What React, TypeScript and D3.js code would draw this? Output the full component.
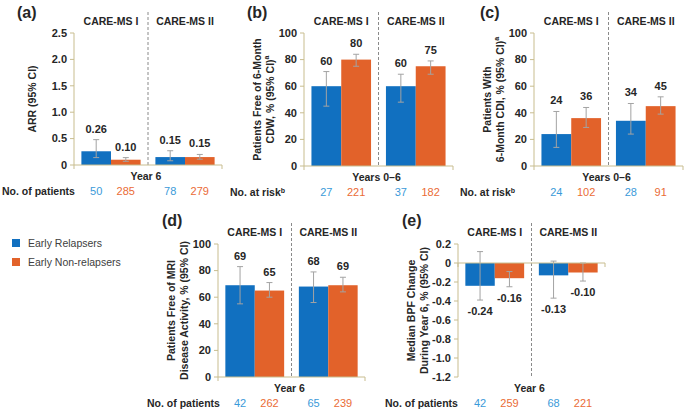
import React, { useRef, useEffect } from 'react';
import * as d3 from 'd3';

// categories
const groups = ["CARE-MS I", "CARE-MS II"];
const seriesNames = ["Early Relapsers", "Early Non-relapsers"];

// (a) ARR, Year 6
const arrRelapsers = [0.26, 0.15];
const arrNonRelapsers = [0.10, 0.15];
const arrRelapsersCI = [[0.14, 0.48], [0.08, 0.27]];
const arrNonRelapsersCI = [[0.07, 0.14], [0.11, 0.20]];
const arrPatientsRelapsers = [50, 78];
const arrPatientsNonRelapsers = [285, 279];
const arrTicks = [0, 0.5, 1.0, 1.5, 2.0, 2.5];

// (b) free of 6-month CDW, years 0-6
const cdwRelapsers = [60, 60];
const cdwNonRelapsers = [80, 75];
const cdwRelapsersCI = [[45, 71], [48, 69]];
const cdwNonRelapsersCI = [[75, 84], [69, 79]];
const cdwRiskRelapsers = [27, 37];
const cdwRiskNonRelapsers = [221, 182];

// (c) 6-month CDI, years 0-6
const cdiRelapsers = [24, 34];
const cdiNonRelapsers = [36, 45];
const cdiRelapsersCI = [[14, 41], [24, 47]];
const cdiNonRelapsersCI = [[29, 44], [39, 52]];
const cdiRiskRelapsers = [24, 28];
const cdiRiskNonRelapsers = [102, 91];

// (d) free of MRI disease activity, year 6
const mriRelapsers = [69, 68];
const mriNonRelapsers = [65, 69];
const mriRelapsersCI = [[55, 83], [56, 79]];
const mriNonRelapsersCI = [[60, 71], [64, 75]];
const mriPatientsRelapsers = [42, 65];
const mriPatientsNonRelapsers = [262, 239];

// (e) median BPF change, year 6
const bpfRelapsers = [-0.24, -0.13];
const bpfNonRelapsers = [-0.16, -0.10];
const bpfRelapsersCI = [[-0.39, 0.12], [-0.37, 0.02]];
const bpfNonRelapsersCI = [[-0.25, -0.09], [-0.19, 0]];
const bpfPatientsRelapsers = [42, 68];
const bpfPatientsNonRelapsers = [259, 221];
const bpfTicks = [-1.2, -1.0, -0.8, -0.6, -0.4, -0.2, 0, 0.2];

const pctTicks = [0, 20, 40, 60, 80, 100];

const BLUE = "#1170c0";
const ORANGE = "#e2622a";
const BLUE_TXT = "#3a9ad9";
const ORANGE_TXT = "#ea6b36";
const AXIS = "#c8bd8f";
const TXT = "#262626";
const FONT = "'Liberation Sans', Arial, sans-serif";

interface PanelDef {
  tag: string;
  left: number; right: number; top: number; bottom: number;
  tagX: number; tagY: number; tableX: number;
  domain: [number, number];
  ticks: number[];
  tickFmt: (v: number) => string;
  valFmt: (v: number) => string;
  values: number[][];
  cis: number[][][];
  counts: number[][];
  yTitle: string[];
  supTitle?: string;
  xLabel: string;
  tableLabel: string;
  tableSup?: string;
}

const oneDec = (v: number) => (v === 0 ? "0" : v.toFixed(1));
const twoDec = (v: number) => v.toFixed(2);
const intFmt = (v: number) => String(Math.round(v));

const panels: PanelDef[] = [
  {
    tag: "(a)", left: 74, right: 222, top: 33, bottom: 165, tagX: 17, tagY: 18, tableX: 2,
    domain: [0, 2.5], ticks: arrTicks, tickFmt: oneDec, valFmt: twoDec,
    values: [arrRelapsers, arrNonRelapsers], cis: [arrRelapsersCI, arrNonRelapsersCI],
    counts: [arrPatientsRelapsers, arrPatientsNonRelapsers],
    yTitle: ["ARR (95% CI)"], xLabel: "Year 6", tableLabel: "No. of patients"
  },
  {
    tag: "(b)", left: 304, right: 453, top: 33, bottom: 166, tagX: 247, tagY: 18, tableX: 230,
    domain: [0, 100], ticks: pctTicks, tickFmt: intFmt, valFmt: intFmt,
    values: [cdwRelapsers, cdwNonRelapsers], cis: [cdwRelapsersCI, cdwNonRelapsersCI],
    counts: [cdwRiskRelapsers, cdwRiskNonRelapsers],
    yTitle: ["Patients Free of 6-Month", "CDW, % (95% CI)"], supTitle: "a",
    xLabel: "Years 0–6", tableLabel: "No. at risk", tableSup: "b"
  },
  {
    tag: "(c)", left: 534, right: 683, top: 33, bottom: 166, tagX: 480, tagY: 18, tableX: 460,
    domain: [0, 100], ticks: pctTicks, tickFmt: intFmt, valFmt: intFmt,
    values: [cdiRelapsers, cdiNonRelapsers], cis: [cdiRelapsersCI, cdiNonRelapsersCI],
    counts: [cdiRiskRelapsers, cdiRiskNonRelapsers],
    yTitle: ["Patients With", "6-Month CDI, % (95% CI)"], supTitle: "a",
    xLabel: "Years 0–6", tableLabel: "No. at risk", tableSup: "b"
  },
  {
    tag: "(d)", left: 218, right: 365, top: 244, bottom: 377, tagX: 162, tagY: 226, tableX: 147,
    domain: [0, 100], ticks: pctTicks, tickFmt: intFmt, valFmt: intFmt,
    values: [mriRelapsers, mriNonRelapsers], cis: [mriRelapsersCI, mriNonRelapsersCI],
    counts: [mriPatientsRelapsers, mriPatientsNonRelapsers],
    yTitle: ["Patients Free of MRI", "Disease Activity, % (95% CI)"],
    xLabel: "Year 6", tableLabel: "No. of patients"
  },
  {
    tag: "(e)", left: 458, right: 605, top: 244, bottom: 377, tagX: 402, tagY: 226, tableX: 385,
    domain: [-1.2, 0.2], ticks: bpfTicks, tickFmt: oneDec, valFmt: twoDec,
    values: [bpfRelapsers, bpfNonRelapsers], cis: [bpfRelapsersCI, bpfNonRelapsersCI],
    counts: [bpfPatientsRelapsers, bpfPatientsNonRelapsers],
    yTitle: ["Median BPF Change", "During Year 6, % (95% CI)"],
    xLabel: "Year 6", tableLabel: "No. of patients"
  }
];

function drawPanel(svg: d3.Selection<SVGSVGElement, unknown, null, undefined>, p: PanelDef) {
  const g = svg.append("g").style("font-family", FONT);

  const y = d3.scaleLinear().domain(p.domain).range([p.bottom, p.top]);
  const x0 = d3.scaleBand<string>().domain(groups).range([p.left, p.right])
    .paddingInner(0.2).paddingOuter(0.1);
  const x1 = d3.scaleBand<number>().domain([0, 1]).range([0, x0.bandwidth()]);
  const y0 = y(0);
  const divX = ((x0(groups[0]) || 0) + x0.bandwidth() + (x0(groups[1]) || 0)) / 2;

  // panel tag
  g.append("text").attr("x", p.tagX).attr("y", p.tagY)
    .attr("font-size", 16).attr("font-weight", "bold").attr("fill", TXT).text(p.tag);

  // divider
  g.append("line").attr("x1", divX).attr("x2", divX)
    .attr("y1", p.top - 21).attr("y2", p.bottom)
    .attr("stroke", "#8a8a8a").attr("stroke-width", 1).attr("stroke-dasharray", "3,2");

  // group headers
  g.selectAll(".hdr").data(groups).enter().append("text")
    .attr("x", d => (x0(d) || 0) + x0.bandwidth() / 2)
    .attr("y", p.top - 8)
    .attr("text-anchor", "middle").attr("font-size", 10.5).attr("font-weight", "bold")
    .attr("fill", TXT).text(d => d);

  // y axis
  g.append("line").attr("x1", p.left).attr("x2", p.left).attr("y1", p.top).attr("y2", p.bottom)
    .attr("stroke", AXIS).attr("stroke-width", 1);
  p.ticks.forEach(t => {
    g.append("line").attr("x1", p.left - 4).attr("x2", p.left).attr("y1", y(t)).attr("y2", y(t))
      .attr("stroke", AXIS);
    g.append("text").attr("x", p.left - 7).attr("y", y(t)).attr("dy", "0.35em")
      .attr("text-anchor", "end").attr("font-size", 11).attr("font-weight", "bold")
      .attr("fill", TXT).text(p.tickFmt(t));
  });

  // y title
  const nLines = p.yTitle.length;
  p.yTitle.forEach((line, i) => {
    const cx = nLines === 1 ? p.left - 42 : p.left - 47 + i * 13;
    const t = g.append("text")
      .attr("transform", `translate(${cx},${(p.top + p.bottom) / 2}) rotate(-90)`)
      .attr("dy", "0.35em").attr("text-anchor", "middle")
      .attr("font-size", 10.5).attr("font-weight", "bold").attr("fill", TXT);
    t.append("tspan").text(line);
    if (p.supTitle && i === nLines - 1) {
      t.append("tspan").attr("font-size", 7).attr("dy", "-0.6em").text(p.supTitle);
    }
  });

  // bars, error bars and value labels
  p.values.forEach((vals, s) => {
    vals.forEach((v, gi) => {
      const bx = (x0(groups[gi]) || 0) + (x1(s) || 0);
      const bw = x1.bandwidth();
      const cx = bx + bw / 2;
      const [lo, hi] = p.cis[s][gi];
      g.append("rect").attr("x", bx).attr("width", bw)
        .attr("y", Math.min(y(v), y0)).attr("height", Math.abs(y(v) - y0))
        .attr("fill", s === 0 ? BLUE : ORANGE);
      g.append("line").attr("x1", cx).attr("x2", cx).attr("y1", y(lo)).attr("y2", y(hi))
        .attr("stroke", "#a3a3a3").attr("stroke-width", 1);
      [lo, hi].forEach(c => {
        g.append("line").attr("x1", cx - 3).attr("x2", cx + 3).attr("y1", y(c)).attr("y2", y(c))
          .attr("stroke", "#a3a3a3").attr("stroke-width", 1);
      });
      const ly = v >= 0 ? y(Math.max(v, hi)) - 7 : y(Math.min(v, lo)) + 15;
      g.append("text").attr("x", cx).attr("y", ly).attr("text-anchor", "middle")
        .attr("font-size", 11).attr("font-weight", "bold").attr("fill", TXT)
        .text(p.valFmt(v));
    });
  });

  // x baseline
  g.append("line").attr("x1", p.left).attr("x2", p.right).attr("y1", y0).attr("y2", y0)
    .attr("stroke", AXIS).attr("stroke-width", 1);
  [p.left, p.right].forEach(xx => {
    g.append("line").attr("x1", xx).attr("x2", xx).attr("y1", y0).attr("y2", y0 + 4)
      .attr("stroke", AXIS);
  });

  // x label
  g.append("text").attr("x", divX - 2).attr("y", p.bottom + 15).attr("text-anchor", "middle")
    .attr("font-size", 10.5).attr("font-weight", "bold").attr("fill", TXT).text(p.xLabel);

  // table row
  const tl = g.append("text").attr("x", p.tableX).attr("y", p.bottom + 30)
    .attr("font-size", 10.5).attr("font-weight", "bold").attr("fill", TXT);
  tl.append("tspan").text(p.tableLabel);
  if (p.tableSup) tl.append("tspan").attr("font-size", 7).attr("dy", "-0.5em").text(p.tableSup);

  p.counts.forEach((cs, s) => {
    cs.forEach((n, gi) => {
      const cx = (x0(groups[gi]) || 0) + (x1(s) || 0) + x1.bandwidth() / 2;
      g.append("text").attr("x", cx).attr("y", p.bottom + 30).attr("text-anchor", "middle")
        .attr("font-size", 11).attr("fill", s === 0 ? BLUE_TXT : ORANGE_TXT).text(String(n));
    });
  });
}

const App: React.FC = () => {
  const svgRef = useRef<SVGSVGElement>(null);

  useEffect(() => {
    if (!svgRef.current) return;
    const svg = d3.select(svgRef.current);
    svg.selectAll("*").remove();

    panels.forEach(p => drawPanel(svg, p));

    // legend
    const lg = svg.append("g").style("font-family", FONT);
    seriesNames.forEach((name, i) => {
      lg.append("rect").attr("x", 12).attr("y", 239 + i * 19).attr("width", 8).attr("height", 8)
        .attr("fill", i === 0 ? BLUE : ORANGE);
      lg.append("text").attr("x", 28).attr("y", 243 + i * 19).attr("dy", "0.35em")
        .attr("font-size", 10.5).attr("fill", "#404040").text(name);
    });
  }, []);

  return (
    <svg
      ref={svgRef}
      width={687}
      height={411}
      style={{ position: 'absolute', left: 0, top: 0, background: '#fff' }}
      viewBox="0 0 687 411"
    />
  );
};

export default App;
